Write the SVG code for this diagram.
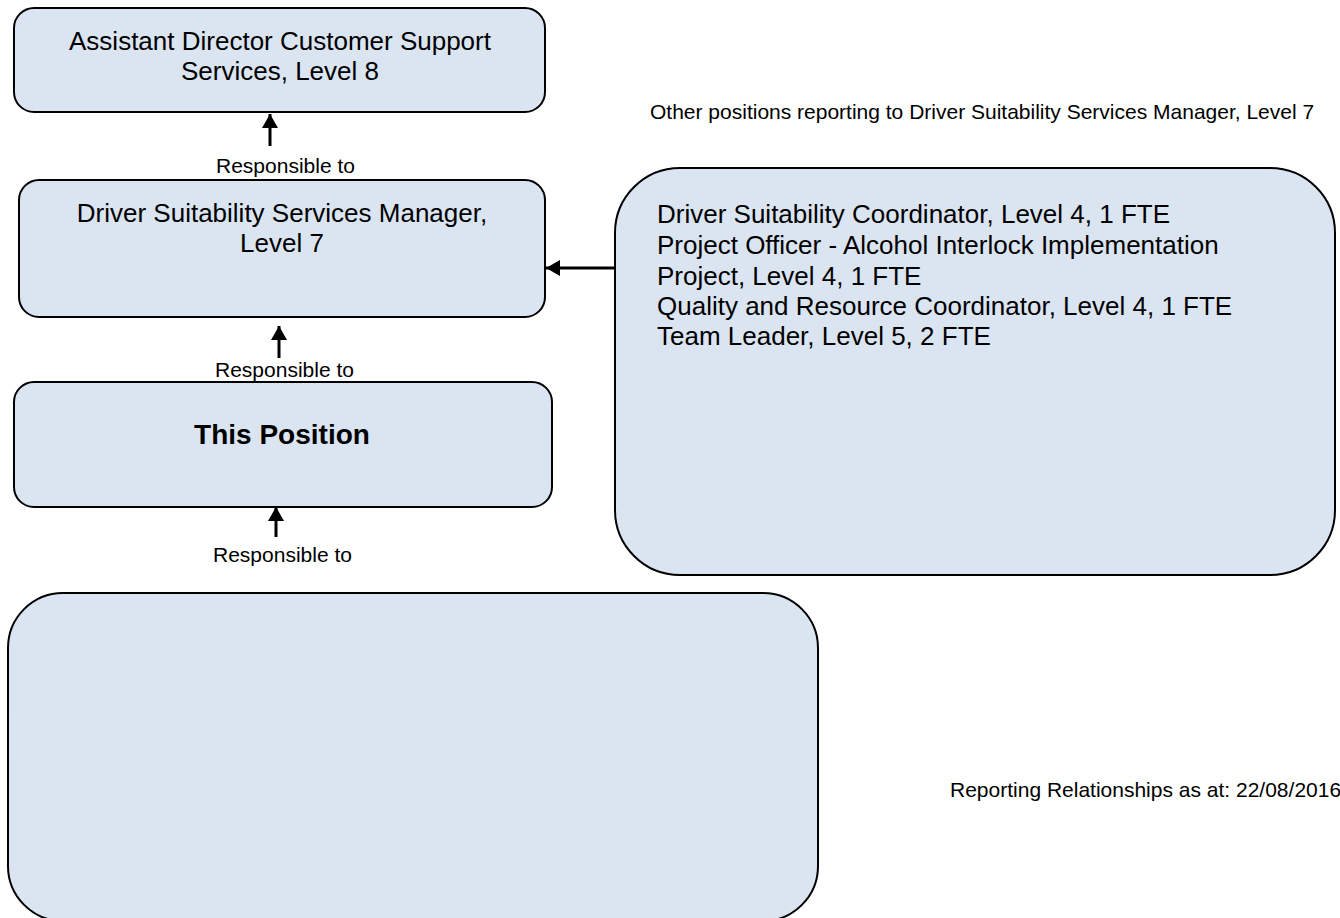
<svg xmlns="http://www.w3.org/2000/svg" width="1340" height="918" viewBox="0 0 1340 918">
  <style>
    .box { fill: #dbe5f1; stroke: #000; stroke-width: 2; }
    .t { font-family: "Liberation Sans", Arial, sans-serif; fill: #000; }
    .title { font-size: 26px; text-anchor: middle; }
    .list { font-size: 26px; }
    .lbl { font-size: 21px; }
    .bold { font-size: 28px; font-weight: bold; text-anchor: middle; }
    .wire { stroke: #000; stroke-width: 3; fill: none; marker-end: url(#head); }
  </style>
  <defs>
    <marker id="head" markerUnits="userSpaceOnUse" markerWidth="16" markerHeight="16" refX="14" refY="8" orient="auto">
      <path d="M0,0 L14,8 L0,16 Z" fill="#000"/>
    </marker>
  </defs>

  <rect width="1340" height="918" fill="#fff"/>

  <g id="assistant-director">
    <rect class="box" x="14" y="8" width="531" height="104" rx="20" ry="20"/>
    <text class="t title" x="280" y="50">Assistant Director Customer Support</text>
    <text class="t title" x="280" y="80">Services, Level 8</text>
  </g>

  <g id="services-manager">
    <rect class="box" x="19" y="180" width="526" height="137" rx="20" ry="20"/>
    <text class="t title" x="282" y="222">Driver Suitability Services Manager,</text>
    <text class="t title" x="282" y="252">Level 7</text>
  </g>

  <g id="this-position">
    <rect class="box" x="14" y="382" width="538" height="125" rx="20" ry="20"/>
    <text class="t bold" x="282" y="444">This Position</text>
  </g>

  <g id="direct-reports">
    <rect class="box" x="8" y="593" width="810" height="328" rx="55" ry="55"/>
  </g>

  <g id="other-positions">
    <text class="t lbl" x="650" y="119">Other positions reporting to Driver Suitability Services Manager, Level 7</text>
    <rect class="box" x="615" y="168" width="720" height="407" rx="65" ry="65"/>
    <text class="t list" x="657" y="223">Driver Suitability Coordinator, Level 4, 1 FTE</text>
    <text class="t list" x="657" y="254">Project Officer - Alcohol Interlock Implementation</text>
    <text class="t list" x="657" y="285">Project, Level 4, 1 FTE</text>
    <text class="t list" x="657" y="315">Quality and Resource Coordinator, Level 4, 1 FTE</text>
    <text class="t list" x="657" y="345">Team Leader, Level 5, 2 FTE</text>
  </g>

  <g id="connectors">
    <line class="wire" x1="270" y1="146" x2="270" y2="114"/>
    <line class="wire" x1="279" y1="358" x2="279" y2="326"/>
    <line class="wire" x1="276" y1="537" x2="276" y2="507"/>
    <line class="wire" x1="615" y1="268" x2="546" y2="268"/>
    <text class="t lbl" x="216" y="173">Responsible to</text>
    <text class="t lbl" x="215" y="377">Responsible to</text>
    <text class="t lbl" x="213" y="562">Responsible to</text>
  </g>

  <text class="t lbl" x="950" y="797">Reporting Relationships as at: 22/08/2016</text>
</svg>
